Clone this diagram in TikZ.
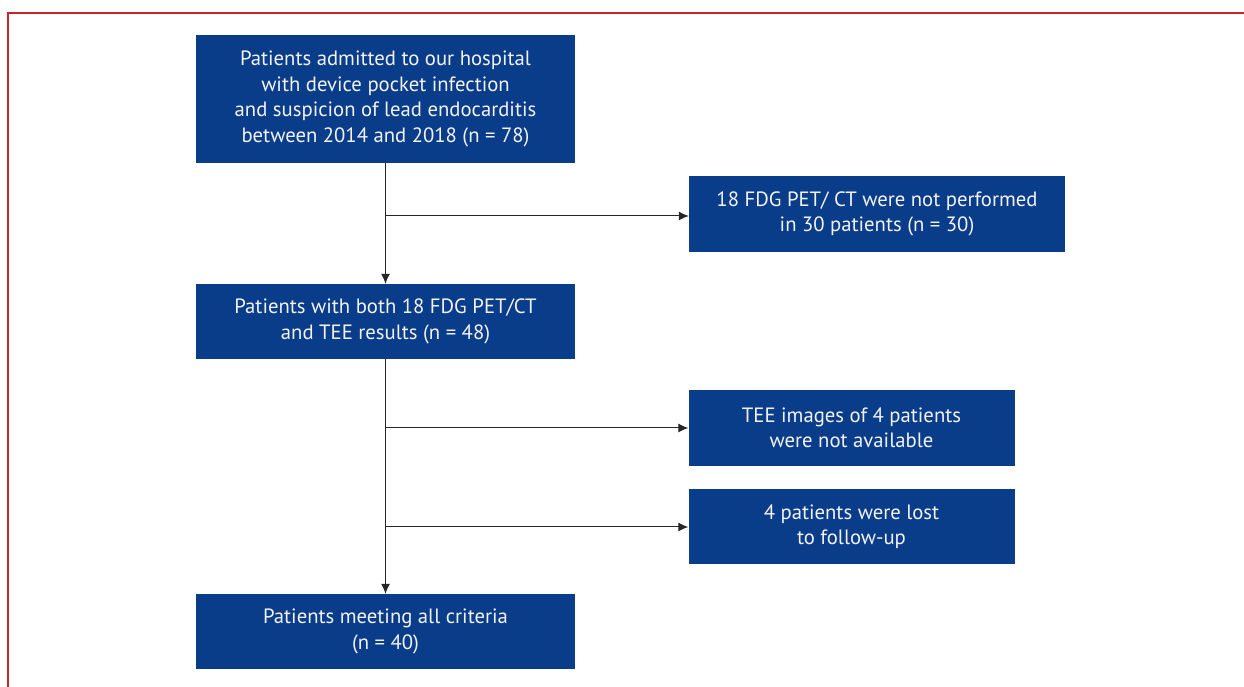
\documentclass[tikz,border=0pt]{standalone}
\usepackage{fontspec}
\setmainfont{PT Sans}
\usetikzlibrary{arrows.meta,calc}
\definecolor{boxblue}{RGB}{10,61,137}
\definecolor{frame}{RGB}{193,39,45}
\definecolor{boxtext}{RGB}{242,242,246}
\begin{document}
\begin{tikzpicture}[x=1pt,y=1pt,
  flowbox/.style={draw=none,fill=boxblue,text=boxtext,align=center,inner sep=0pt,
    font=\fontsize{20.7}{25.5}\selectfont},
  conn/.style={draw=black!85,line width=1pt,-{Latex[length=10pt,width=9pt]}}]
\useasboundingbox (0,0) rectangle (1244,687);
\fill[white] (0,0) rectangle (1244,687);
\draw[frame,line width=1.5pt] (8,0) -- (8,674) -- (1244,674);

\node[flowbox,minimum width=379pt,minimum height=128pt] (b1) at (385.5,588)
  {Patients admitted to our hospital\\with device pocket infection\\and suspicion of lead endocarditis\\between 2014 and 2018 (n = 78)};
\node[flowbox,minimum width=376pt,minimum height=76pt] (b2) at (877,473)
  {18 FDG PET/ CT were not performed\\in 30 patients (n = 30)};
\node[flowbox,minimum width=379pt,minimum height=75pt] (b3) at (385.5,365.5)
  {Patients with both 18 FDG PET/CT\\and TEE results (n = 48)};
\node[flowbox,minimum width=326pt,minimum height=76pt] (b4) at (851.5,259)
  {TEE images of 4 patients\\were not available};
\node[flowbox,minimum width=326pt,minimum height=75pt] (b5) at (851.5,160.5)
  {4 patients were lost\\to follow-up};
\node[flowbox,minimum width=379pt,minimum height=75pt] (b6) at (385.5,55.5)
  {Patients meeting all criteria\\(n = 40)};

\coordinate (j1) at (385.5,471);
\coordinate (j2) at (385.5,259);
\coordinate (j3) at (385.5,160);

\draw[conn] (b1.south) -- (b3.north);
\draw[conn] (b3.south) -- (b6.north);
\draw[conn] (j1) -- (j1 -| b2.west);
\draw[conn] (j2) -- (j2 -| b4.west);
\draw[conn] (j3) -- (j3 -| b5.west);
\end{tikzpicture}
\end{document}
